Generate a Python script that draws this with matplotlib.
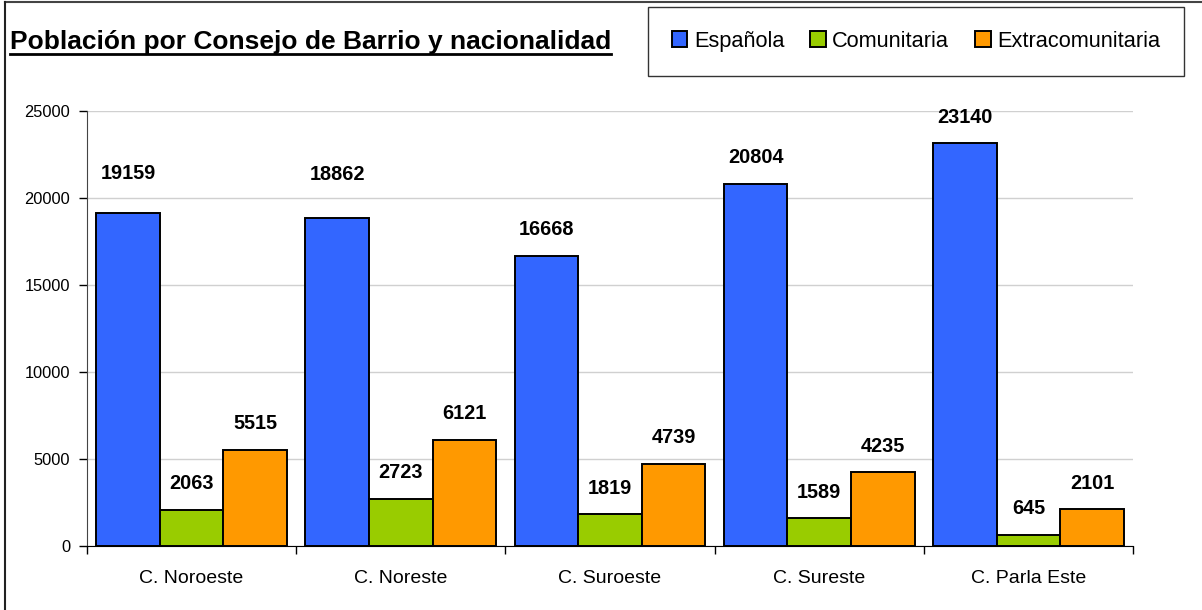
import matplotlib.pyplot as plt
import numpy as np
from matplotlib.lines import Line2D

plt.rcParams['font.family'] = ['Liberation Sans', 'DejaVu Sans']

# Data
consejos = ['C. Noroeste', 'C. Noreste', 'C. Suroeste', 'C. Sureste', 'C. Parla Este']
espanola = [19159, 18862, 16668, 20804, 23140]
comunitaria = [2063, 2723, 1819, 1589, 645]
extracomunitaria = [5515, 6121, 4739, 4235, 2101]
series_names = ['Española', 'Comunitaria', 'Extracomunitaria']
colors = ['#3366FF', '#99CC00', '#FF9900']

# extra label lift (points) for labels that sit higher in the original
label_lift = {(0, 0): 9, (0, 1): 12}

fig = plt.figure(figsize=(12.02, 6.10), dpi=100)
ax = fig.add_axes([0.0724, 0.1049, 0.8702, 0.7131])

x = np.arange(len(consejos))
width = 0.304
all_series = [espanola, comunitaria, extracomunitaria]
for i, (vals, name, col) in enumerate(zip(all_series, series_names, colors)):
    pos = x + (i - 1) * width
    ax.bar(pos, vals, width, color=col, edgecolor='black', linewidth=1.4,
           label=name, zorder=3)
    for j, v in enumerate(vals):
        lift = label_lift.get((i, j), 0)
        ax.annotate(str(v), (pos[j], v), xytext=(0, 12 + lift),
                    textcoords='offset points', ha='center', va='bottom',
                    fontsize=14.3, fontweight='bold', zorder=4)

ax.set_xlim(-0.5, len(consejos) - 0.5)
ax.set_ylim(0, 25000)
ax.set_yticks(range(0, 25001, 5000))
ax.yaxis.grid(True, color='#d0d0d0', linewidth=1, zorder=0)
ax.set_axisbelow(True)

ax.set_xticks(np.arange(len(consejos) + 1) - 0.5, minor=False)
ax.set_xticklabels([])
ax.set_xticks(x, minor=True)
ax.set_xticklabels(consejos, minor=True, fontsize=14)
ax.tick_params(axis='x', which='minor', length=0, pad=17)
ax.tick_params(axis='x', which='major', length=6, width=1)
ax.tick_params(axis='y', length=6, width=1, labelsize=11.8, pad=6)

for s in ['top', 'right']:
    ax.spines[s].set_visible(False)
ax.spines['left'].set_color('#444444')
ax.spines['bottom'].set_color('black')

# Title with underline matched to text width
title = fig.text(0.0083, 0.92, 'Población por Consejo de Barrio y nacionalidad',
                 fontsize=19, fontweight='bold', ha='left', va='baseline')
fig.canvas.draw()
bb = title.get_window_extent().transformed(fig.transFigure.inverted())
fig.add_artist(Line2D([bb.x0, bb.x1], [0.912, 0.912], color='black',
                      linewidth=2, transform=fig.transFigure))

# Legend
leg = fig.legend(loc='upper left', bbox_to_anchor=(0.530, 1.007), ncol=3,
                 fontsize=15.7, frameon=True, fancybox=False,
                 handlelength=0.7, handleheight=0.7, handletextpad=0.3,
                 columnspacing=1.2, borderpad=1.1)
leg.get_frame().set_edgecolor('black')
leg.get_frame().set_linewidth(1)

# Outer frame (top and left lines)
fig.add_artist(Line2D([0.004, 1.0], [0.997, 0.997], color='#444444',
                      linewidth=1.5, transform=fig.transFigure))
fig.add_artist(Line2D([0.004, 0.004], [0.0, 0.997], color='#222222',
                      linewidth=1.5, transform=fig.transFigure))

fig.savefig('out.png', dpi=100)
